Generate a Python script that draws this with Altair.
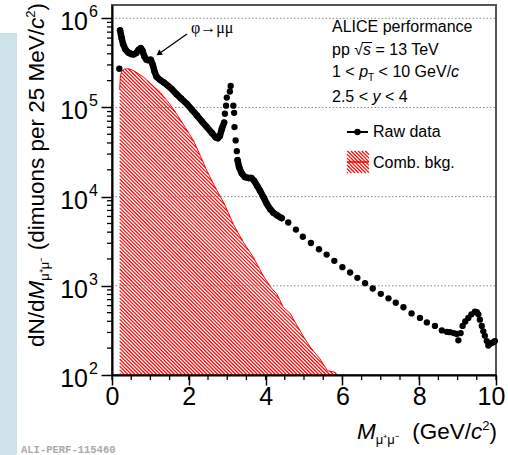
import altair as alt
import numpy as np
import pandas as pd

# ---------------- data ----------------
raw_mass = [0.19, 0.21, 0.25, 0.29, 0.35, 0.43, 0.50, 0.56, 0.63, 0.69,
            0.75, 0.79, 0.84, 0.90, 0.96, 1.01, 1.06, 1.11, 1.16, 1.25,
            1.35, 1.45, 1.55, 1.68, 1.80, 1.95, 2.08, 2.21, 2.34, 2.47,
            2.60, 2.70, 2.76, 2.81, 2.86, 2.92, 2.94, 2.97, 2.99, 3.07,
            3.09, 3.16, 3.18, 3.19, 3.22, 3.25, 3.27, 3.31, 3.38, 3.46,
            3.55, 3.63, 3.70, 3.78, 3.85, 3.95, 4.03, 4.12, 4.20, 4.30,
            4.42, 4.59, 4.79, 4.97, 5.18, 5.39, 5.59, 5.79, 6.00, 6.20,
            6.39, 6.59, 6.79, 7.00, 7.20, 7.39, 7.59, 7.80, 8.02, 8.20,
            8.41, 8.59, 8.72, 8.80, 8.90, 8.98, 9.02, 9.08, 9.13, 9.20,
            9.28, 9.36, 9.45, 9.50, 9.54, 9.58, 9.63, 9.67, 9.71, 9.76,
            9.80, 9.85, 9.89, 9.94, 9.97]
raw_counts = [272000, 733000, 603000, 513000, 447000, 412000, 398000, 394000, 407000, 442000,
              462000, 437000, 376000, 343000, 339000, 343000, 302000, 251000, 221000, 204000,
              191000, 176000, 162000, 141000, 126000, 110000, 94400, 81300, 70000, 60300,
              51900, 46200, 45200, 47900, 57500, 67600, 85100, 104700, 129000, 151000,
              174000, 104700, 87100, 60300, 42700, 32400, 25700, 21400, 18200, 16600,
              16200, 16200, 15100, 13200, 11750, 9770, 8320, 7240, 6610, 6170,
              5750, 5130, 4270, 3550, 3020, 2570, 2240, 1905, 1620, 1410,
              1230, 1070, 933, 813, 724, 646, 575, 490, 437, 389,
              355, 316, 305, 302, 295, 288, 245, 295, 355, 398,
              437, 479, 513, 507, 479, 417, 355, 309, 275, 240,
              214, 224, 229, 234, 240]

bkg_mass = [0.20, 0.22, 0.26, 0.32, 0.40, 0.47, 0.55, 0.65, 0.82, 1.00,
            1.25, 1.50, 1.68, 1.90, 2.12, 2.30, 2.47, 2.60, 2.73, 2.90,
            3.07, 3.16, 3.42, 3.68, 3.94, 4.16, 4.29, 4.46, 4.64, 4.81,
            5.00, 5.20, 5.40, 5.61, 5.81, 5.86]
bkg_counts = [158000, 229000, 257000, 269000, 272000, 269000, 260000, 245000, 219000, 186000,
              148000, 110000, 85100, 60300, 42700, 28800, 19500, 15100, 11750, 8710,
              6030, 4900, 3090, 2090, 1290, 933, 813, 575, 490, 363,
              263, 195, 155, 112, 107, 100]

x_ticks = [0, 2, 4, 6, 8, 10]
x_minor = [0.5 * i for i in range(21)]
y_ticks = [1e2, 1e3, 1e4, 1e5, 1e6]
y_exps = ["2", "3", "4", "5", "6"]
y_minor = [k * 10 ** e for e in range(2, 6) for k in range(2, 10)]

# ---------------- layout ----------------
FONT = "Liberation Sans"
W, H = 384, 370
YMAX = 1.41e6
LOGR = np.log10(YMAX) - 2.0
RED = "#ff0000"

xs = alt.Scale(domain=[0, 10], nice=False, zero=False)
ys = alt.Scale(type="log", domain=[100, YMAX], nice=False)
xaxis = alt.Axis(values=x_ticks, title=None, grid=False, tickSize=10, tickWidth=1.5,
                 tickColor="black", domainColor="black", domainWidth=2,
                 labelFontSize=25, labelFont=FONT, labelColor="black", labelPadding=-1,
                 labelFlush=False, labelOverlap=False, zindex=1, format="d",
                 labelOffset={"condition": {"test": "datum.value == 10", "value": -5}, "value": 0})
yaxis = alt.Axis(values=y_ticks, title=None, grid=False, labels=False, tickSize=11,
                 tickWidth=1.5, tickColor="black", domainColor="black", domainWidth=2, zindex=1)

X = lambda f: alt.X(f, type="quantitative", scale=xs, axis=xaxis)
Y = lambda f: alt.Y(f, type="quantitative", scale=ys, axis=yaxis)

one = pd.DataFrame({"a": [0]})

HW = {' ': 278, '(': 333, ')': 333, '.': 278, '/': 278, '<': 584, '=': 584, 'A': 667,
      'C': 722, 'E': 667, 'G': 778, 'I': 278, 'L': 556, 'M': 833, 'N': 722, 'R': 722,
      'T': 611, 'V': 667, 'a': 556, 'b': 556, 'c': 500, 'd': 556, 'e': 556, 'f': 278,
      'g': 556, 'i': 222, 'k': 500, 'm': 833, 'n': 556, 'o': 556, 'p': 556, 'r': 333,
      's': 500, 't': 278, 'u': 556, 'w': 722, 'y': 500, 'μ': 576, '⁺': 350, '⁻': 350,
      '√': 549, '²': 333}


def tw(s, size):
    return sum(HW.get(ch, 556) for ch in s) / 1000.0 * size


def txt(s, x, y, size, style="normal", align="left", angle=0, baseline="alphabetic",
        font=FONT, color="black", weight="normal"):
    kw = dict(text=s, align=align, baseline=baseline, fontSize=size, fontStyle=style,
              font=font, color=color, fontWeight=weight)
    if angle:
        kw["angle"] = angle
    return alt.Chart(one).mark_text(**kw).encode(x=alt.value(x), y=alt.value(y))


def rule(x0, y0, x1, y1, color="black", width=1.0):
    return alt.Chart(one).mark_rule(color=color, strokeWidth=width).encode(
        x=alt.value(x0), y=alt.value(y0), x2=alt.value(x1), y2=alt.value(y1))


def run_pieces(pieces, x0, y0, direction):
    """Lay text pieces one after another; leading spaces become offsets (Vega trims text).
    direction 'h': left to right, 'v': bottom to top (rotated 270)."""
    out, pos = [], []
    cur = 0.0
    for s, size, style, off in pieces:
        lead = len(s) - len(s.lstrip(" "))
        core = s.strip(" ")
        start = cur + tw(" " * lead, size)
        end = start + tw(core, size)
        if direction == "h":
            out.append(txt(core, x0 + start, y0 + off, size, style=style))
            pos.append((x0 + start, x0 + end))
        else:
            out.append(txt(core, x0 + off, y0 - start, size, style=style, angle=270))
            pos.append((y0 - start, y0 - end))
        cur += tw(s, size)
    return out, pos, cur


layers = []

# blue stripe and watermark on the left
layers.append(alt.Chart(one).mark_rect(color="#cee3e9").encode(
    x=alt.value(-112), x2=alt.value(-95), y=alt.value(28), y2=alt.value(455)))
layers.append(txt("ALI-PERF-115460", -91, 445, 10.5, font="Liberation Mono",
                  color="#aaaaaa", weight="bold", baseline="middle"))

# ---------------- hatched combinatorial background ----------------
bpx = np.asarray(bkg_mass) / 10 * W
bpy = (np.log10(YMAX) - np.log10(bkg_counts)) / LOGR * H
samp = np.arange(bpx[0], bpx[-1], 0.1)
tops = np.interp(samp, bpx, bpy)
step = 3.6
rows = []
seg = 0
for c in np.arange(bpy.min() - bpx.max() - step, H - bpx.min() + step, step):
    py = samp + c
    inside = (py >= tops) & (py <= H)
    idx = np.where(inside)[0]
    if len(idx) < 2:
        continue
    br = np.where(np.diff(idx) > 1)[0]
    starts = np.r_[idx[0], idx[br + 1]]
    ends = np.r_[idx[br], idx[-1]]
    for s, e in zip(starts, ends):
        if e <= s:
            continue
        for j in (s, e):
            pxv = samp[j]
            pyv = min(py[j], H)
            rows.append({"m": pxv / W * 10,
                         "v": 10 ** (np.log10(YMAX) - pyv / H * LOGR),
                         "seg": seg})
        seg += 1
hatch = pd.DataFrame(rows)
layers.append(alt.Chart(hatch).mark_line(color=RED, strokeWidth=1.15).encode(
    x=X("m"), y=Y("v"), detail="seg:N"))

bkg = pd.DataFrame({"m": bkg_mass, "v": bkg_counts})
layers.append(alt.Chart(bkg).mark_line(color=RED, strokeWidth=1).encode(x=X("m"), y=Y("v")))

# grid lines (dotted) at decades
grid = pd.DataFrame({"v": y_ticks[1:]})
layers.append(alt.Chart(grid).mark_rule(color="#8a8a8a", strokeDash=[1.5, 2], strokeWidth=1).encode(
    y=Y("v"), x=alt.value(0), x2=alt.value(W)))

# minor ticks
layers.append(alt.Chart(pd.DataFrame({"m": x_minor})).mark_rule(color="black", strokeWidth=1.3).encode(
    x=X("m"), y=alt.value(H), y2=alt.value(H + 5)))
layers.append(alt.Chart(pd.DataFrame({"v": y_minor})).mark_rule(color="black", strokeWidth=1.3).encode(
    y=Y("v"), x=alt.value(-5), x2=alt.value(0)))

# ---------------- raw data ----------------
raw = pd.DataFrame({"m": raw_mass, "v": raw_counts})
part = np.where((raw.m >= 0.2) & (raw.m <= 2.93), "a",
                np.where((raw.m >= 3.26) & (raw.m <= 4.43), "b", "none"))
raw_line = raw[part != "none"].assign(part=part[part != "none"])
layers.append(alt.Chart(raw_line).mark_line(color="black", strokeWidth=6.5, strokeCap="round",
                                            strokeJoin="round").encode(x=X("m"), y=Y("v"), detail="part:N"))
layers.append(alt.Chart(raw).mark_circle(color="black", size=40, opacity=1).encode(x=X("m"), y=Y("v")))

# y tick labels 10^n
ylab = pd.DataFrame({"v": y_ticks, "e": y_exps})
layers.append(alt.Chart(ylab).mark_text(text="10", align="right", baseline="middle", fontSize=25,
                                        font=FONT, color="black", dy=4).encode(y=Y("v"), x=alt.value(-24)))
layers.append(alt.Chart(ylab).mark_text(align="left", baseline="middle", fontSize=16,
                                        font=FONT, color="black", dy=-6).encode(
    y=Y("v"), x=alt.value(-23), text="e:N"))

# ---------------- y-axis title (rotated, pieces) ----------------
S = 22.5
ypieces = [("dN/d", S, "normal", 0), ("M", S, "italic", 0), ("μ⁺μ⁻", 13, "normal", 5),
           (" (dimuons per 25 MeV/", S, "normal", 0), ("c", S, "italic", 0),
           ("2", 13, "normal", -9), (")", S, "normal", 0)]
L = sum(tw(p[0], p[1]) for p in ypieces)
out, _, _ = run_pieces(ypieces, -68, 170 + L / 2, "v")
layers += out

# ---------------- x-axis title ----------------
xpieces = [("M", S, "italic", 0), ("μ⁺μ⁻", 13, "normal", 5), ("  (GeV/", S, "normal", 0),
           ("c", S, "italic", 0), ("2", 13, "normal", -9), (")", S, "normal", 0)]
L = sum(tw(p[0], p[1]) for p in xpieces)
out, _, _ = run_pieces(xpieces, 385 - L, 434, "h")
layers += out

# ---------------- info text ----------------
F = 16
X0 = 220
layers.append(txt("ALICE performance", X0, 27, F))
out, pos2, _ = run_pieces([("pp ", F, "normal", 0), ("√", F, "normal", 0), ("s", F, "italic", 0),
                           (" = 13 TeV", F, "normal", 0)], X0, 50, "h")
layers += out
layers.append(rule(pos2[1][1] - 1, 37.5, pos2[2][1] + 1, 37.5, width=1))
out, _, _ = run_pieces([("1 < ", F, "normal", 0), ("p", F, "italic", 0), ("T", 10, "normal", 4),
                        (" < 10 GeV/", F, "normal", 0), ("c", F, "italic", 0)], X0, 72, "h")
layers += out
out, _, _ = run_pieces([("2.5 < ", F, "normal", 0), ("y", F, "italic", 0), (" < 4", F, "normal", 0)],
                       X0, 97, "h")
layers += out

# ---------------- legend ----------------
layers.append(rule(235, 127, 256, 127, width=2))
layers.append(alt.Chart(one).mark_circle(color="black", size=40, opacity=1).encode(
    x=alt.value(245.5), y=alt.value(127)))
layers.append(txt("Raw data", 261, 127, F, baseline="middle"))
bx0, by0, bs = 235, 146, 22
for c in np.arange(-bs, bs, 3.6):
    p0 = max(0, -c)
    p1 = min(bs, bs - c)
    if p1 - p0 > 0.5:
        layers.append(rule(bx0 + p0, by0 + p0 + c, bx0 + p1, by0 + p1 + c, color=RED, width=1.15))
layers.append(rule(bx0, by0 + bs / 2, bx0 + bs, by0 + bs / 2, color=RED, width=1.5))
layers.append(txt("Comb. bkg.", 261, 158, F, baseline="middle"))

# ---------------- phi annotation ----------------
layers.append(txt("φ→μμ", 79, 28, 16, font="Liberation Serif"))
layers.append(rule(75, 29, 48, 48, width=1.3))
layers.append(alt.Chart(one).mark_point(shape="triangle", filled=True, size=40, angle=235,
                                        color="black", opacity=1).encode(
    x=alt.value(47.6), y=alt.value(48.2)))

chart = alt.layer(*layers).properties(
    width=W, height=H,
    autosize=alt.AutoSizeParams(type="none"),
    padding={"left": 112, "top": 5, "right": 12, "bottom": 80},
    background="white",
).configure_view(stroke="#555555", strokeWidth=2)

chart.save("out.html", embed_options={"renderer": "svg", "actions": False})
